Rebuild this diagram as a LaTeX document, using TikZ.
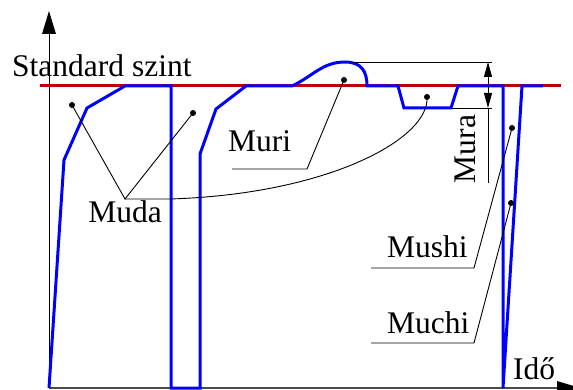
\documentclass[tikz,border=0pt]{standalone}
\usepackage{fontspec}
\setmainfont{Liberation Serif}
\usetikzlibrary{arrows.meta}
\definecolor{stdred}{RGB}{192,0,0}
\begin{document}
\begin{tikzpicture}[x=1pt,y=-1pt,
  blueline/.style={blue, line width=3pt, line join=miter},
  leader/.style={black, line width=0.9pt},
  axisline/.style={black, line width=1pt},
  lbl/.style={font=\fontsize{31.5}{36}\selectfont, inner sep=0pt},
  dot/.style={circle, fill=black, inner sep=0pt, minimum size=6pt}]
\useasboundingbox (0,0) rectangle (573,390);
\clip (0,0) rectangle (573,390);
% axes
\coordinate (O) at (49,388);
\coordinate (ytop) at (49,11);
\coordinate (xend) at (580,388);
\draw[axisline] (O) -- (49,30);
\fill (ytop) -- (42,34) -- (56,34) -- cycle;
\draw[gray!60!black, line width=1.3pt] (O) -- (560,388);
\fill (xend) -- (557,381) -- (557,395) -- cycle;
% standard level
\draw[stdred, line width=3pt] (40,86) -- (561,86);
% process curve
\draw[blueline] (49,388) -- (64,160) -- (87,108) -- (125,86) -- (171,86) -- (171,388)
  -- (200,388) -- (200,154) -- (216,109) -- (246,86) -- (292,86)
  to[out=25,in=180] (345,62) .. controls (362,62) and (367,72) .. (367,86)
  -- (398,86) -- (404,108) -- (451,108) -- (458,86) -- (503,86) -- (503,388)
  -- (522,86) -- (543,86);
% Mura dimension
\draw[leader] (353,62) -- (492,62);
\draw[leader] (452,108) -- (492,108);
\coordinate (mmid) at (488,86);
\coordinate (mtop) at (488,62);
\coordinate (mbot) at (488,108);
\draw[leader, -{Triangle[length=15pt,width=8pt]}] (mmid) -- (mtop);
\draw[leader, -{Triangle[length=15pt,width=8pt]}] (mmid) -- (mbot);
\draw[leader] (mbot) -- (488,183);
% labels
\node[lbl, anchor=base west] (std) at (12,77) {Standard szint};
\node[lbl, anchor=base] (muda) at (125,223) {Muda};
\node[lbl, anchor=base west] (muri) at (228,152) {Muri};
\node[lbl, rotate=90] (mura) at (465,149) {Mura};
\node[lbl, anchor=base west] (mushi) at (387,258) {Mushi};
\node[lbl, anchor=base west] (muchi) at (387,333) {Muchi};
\node[lbl, anchor=base west] (ido) at (513,379) {Idő};
% dots
\node[dot] (d1) at (72,105) {};
\node[dot] (d2) at (193,113) {};
\node[dot] (d3) at (427,97) {};
\node[dot] (d4) at (344,80) {};
\node[dot] (d5) at (512,128) {};
\node[dot] (d6) at (511,203) {};
% leaders
\coordinate (mj) at (125,199);
\draw[leader] (d1.center) -- (mj) -- (d2.center);
\draw[leader] (mj) -- (170,199) .. controls (330,194) and (430,138) .. (d3.center);
\coordinate (murA) at (232,169);
\coordinate (murB) at (307,169);
\draw[leader] (murA) -- (murB) -- (d4.center);
\coordinate (mushA) at (371,268);
\coordinate (mushB) at (474,268);
\draw[leader] (mushA) -- (mushB) -- (d5.center);
\coordinate (muchA) at (371,343);
\coordinate (muchB) at (474,343);
\draw[leader] (muchA) -- (muchB) -- (d6.center);
\end{tikzpicture}
\end{document}
